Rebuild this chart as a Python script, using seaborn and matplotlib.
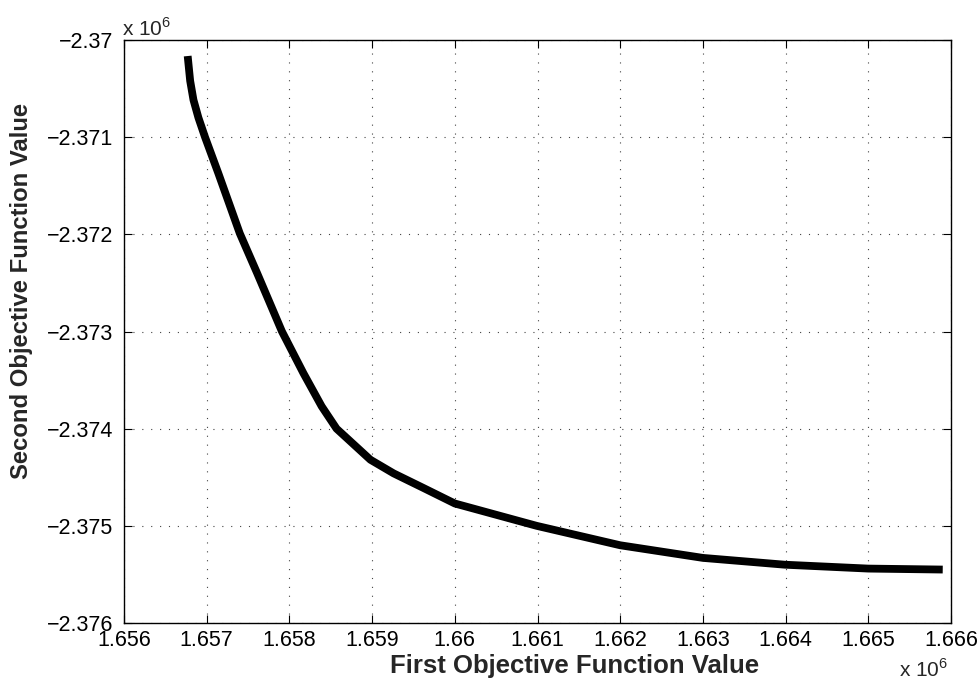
import matplotlib
matplotlib.use("Agg")
import matplotlib.pyplot as plt
import seaborn as sns
import numpy as np
import pandas as pd
from matplotlib.ticker import FuncFormatter, MultipleLocator

first_obj = [1.65677e6, 1.65680e6, 1.65684e6, 1.65690e6, 1.65698e6, 1.65714e6,
             1.65740e6, 1.65761e6, 1.65791e6, 1.65817e6, 1.65839e6, 1.65857e6,
             1.65898e6, 1.65926e6, 1.65962e6, 1.66000e6, 1.66099e6, 1.66200e6,
             1.66300e6, 1.66399e6, 1.66500e6, 1.66590e6]
second_obj = [-2.370165e6, -2.370420e6, -2.370617e6, -2.370800e6, -2.371000e6,
              -2.371370e6, -2.371990e6, -2.372400e6, -2.373000e6, -2.373430e6,
              -2.373770e6, -2.374000e6, -2.374320e6, -2.374460e6, -2.374610e6,
              -2.374770e6, -2.375000e6, -2.375200e6, -2.375330e6, -2.375400e6,
              -2.375440e6, -2.375450e6]

x_label = "First Objective Function Value"
y_label = "Second Objective Function Value"
offset_label = r"x 10$^{6}$"

sns.set_theme(style="white")
plt.rcParams['font.family'] = ['Liberation Sans', 'DejaVu Sans']
plt.rcParams['mathtext.fontset'] = 'custom'
plt.rcParams['mathtext.rm'] = 'Liberation Sans'

df = pd.DataFrame({"x": first_obj, "y": second_obj})

W, H = 980, 682
fig = plt.figure(figsize=(W / 100, H / 100), dpi=100)
ax = fig.add_axes([124 / W, 1 - 623 / H, (951 - 124) / W, (623 - 40) / H])

sns.lineplot(data=df, x="x", y="y", ax=ax, color="black", linewidth=5.6,
             sort=False, estimator=None)
ax.get_lines()[0].set_solid_capstyle('butt')
ax.get_lines()[0].set_solid_joinstyle('round')

ax.set_xlim(1.656e6, 1.666e6)
ax.set_ylim(-2.376e6, -2.370e6)
ax.xaxis.set_major_locator(MultipleLocator(1000))
ax.yaxis.set_major_locator(MultipleLocator(1000))


def fmt(v, pos):
    s = "%g" % round(v / 1e6, 6)
    return s.replace("-", "\u2212")


ax.xaxis.set_major_formatter(FuncFormatter(fmt))
ax.yaxis.set_major_formatter(FuncFormatter(fmt))

ax.grid(True, linestyle=(0, (1, 7)), color="#444444", linewidth=0.8)
for sp in ax.spines.values():
    sp.set_visible(True)
    sp.set_color("black")
    sp.set_linewidth(1.0)

ax.tick_params(direction="in", length=6, width=0.8, colors="black",
               labelsize=15.5, top=True, right=True, bottom=True, left=True,
               labelcolor="black")
ax.tick_params(axis="x", pad=5)
ax.tick_params(axis="y", pad=8)

ax.set_xlabel("")
ax.set_ylabel("")
fig.text(575 / W, 1 - 673 / H, x_label, fontsize=18.5, fontweight="bold",
         ha="center", va="baseline")
fig.text(22 / W, 1 - 291 / H, y_label, fontsize=17.2, fontweight="bold",
         ha="center", va="center", rotation=90)

fig.text(122 / W, 1 - 36 / H, offset_label, fontsize=15, ha="left", va="baseline")
fig.text(899 / W, 1 - 677 / H, offset_label, fontsize=15, ha="left", va="baseline")

fig.savefig("out.png", dpi=100, facecolor="white")
